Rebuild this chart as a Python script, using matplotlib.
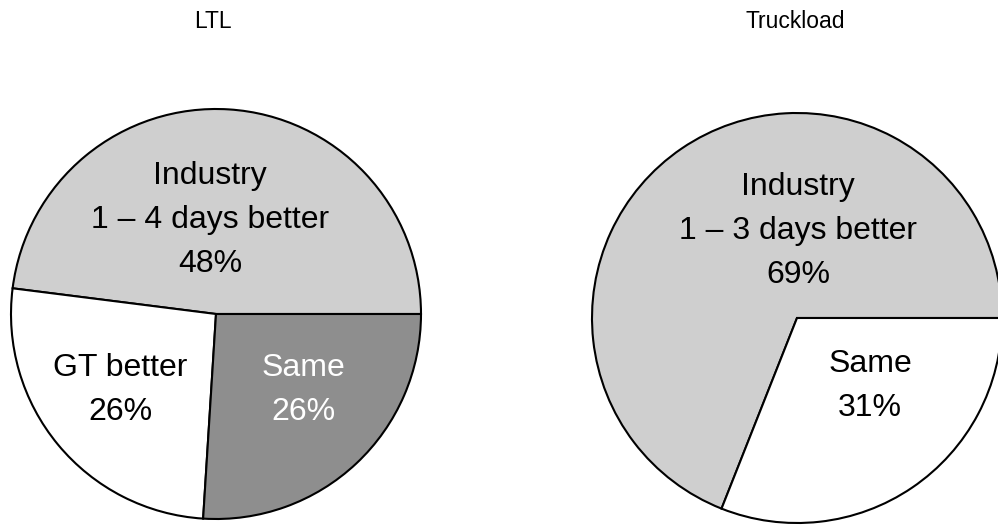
import matplotlib
matplotlib.use("Agg")
import matplotlib.pyplot as plt

plt.rcParams['font.family'] = ['Liberation Sans', 'DejaVu Sans']

# transit-time comparison, GT vs industry
ltl_labels = ["Industry\n1 \u2013 4 days better\n48%", "GT better\n26%", "Same\n26%"]
ltl_shares = [48, 26, 26]
tl_labels = ["Industry\n1 \u2013 3 days better\n69%", "Same\n31%"]
tl_shares = [69, 31]

LIGHT = "#cfcfcf"
DARK = "#8e8e8e"
W, H = 998, 525

fig = plt.figure(figsize=(W / 100, H / 100), dpi=100)
ax = fig.add_axes([0, 0, 1, 1])

def px(x, y):
    # pixel position (top-left origin) -> data coords
    return x, H - y

wedge_style = dict(edgecolor="black", linewidth=1.5)

ax.pie(ltl_shares, colors=[LIGHT, "white", DARK], startangle=0,
       counterclock=True, center=px(216, 314), radius=205,
       wedgeprops=wedge_style)
ax.pie(tl_shares, colors=[LIGHT, "white"], startangle=0,
       counterclock=True, center=px(797, 318), radius=205,
       wedgeprops=wedge_style)

ax.set_xlim(0, W)
ax.set_ylim(0, H)
ax.set_aspect("equal")
ax.axis("off")

lab = dict(ha="center", va="center", fontsize=23, linespacing=1.6)
ax.text(*px(210, 220), ltl_labels[0], **lab)
ax.text(*px(120, 390), ltl_labels[1], **lab)
ax.text(*px(303, 390), ltl_labels[2], color="white", **lab)
ax.text(*px(798, 231), tl_labels[0], **lab)
ax.text(*px(870, 386), tl_labels[1], **lab)

ax.text(*px(213, 21), "LTL", ha="center", va="center", fontsize=16.5)
ax.text(*px(795, 21), "Truckload", ha="center", va="center", fontsize=16.5)

fig.savefig("out.png", dpi=100)
